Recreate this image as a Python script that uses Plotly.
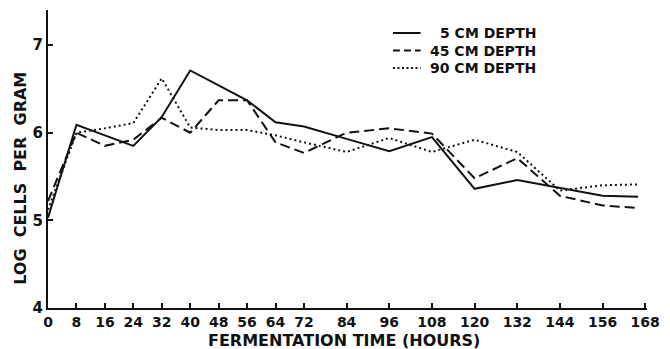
import plotly.graph_objects as go

# Sampling times (hours) and log cell counts per gram at three silo depths
hours = [0, 8, 16, 24, 32, 40, 48, 56, 64, 72, 84, 96, 108, 120, 132, 144, 156, 166]
depth_5cm = [5.03, 6.09, 5.97, 5.85, 6.18, 6.71, 6.54, 6.37, 6.12, 6.07, 5.93, 5.79, 5.95, 5.36, 5.46, 5.37, 5.28, 5.27]
depth_45cm = [5.22, 6.00, 5.85, 5.92, 6.17, 6.00, 6.37, 6.37, 5.89, 5.77, 6.00, 6.05, 5.99, 5.48, 5.71, 5.28, 5.17, 5.14]
depth_90cm = [5.12, 6.00, 6.05, 6.11, 6.62, 6.06, 6.03, 6.03, 5.97, 5.89, 5.78, 5.94, 5.78, 5.92, 5.78, 5.34, 5.40, 5.41]

x_ticks = [0, 8, 16, 24, 32, 40, 48, 56, 64, 72, 84, 96, 108, 120, 132, 144, 156, 168]
y_ticks = [4, 5, 6, 7]

FONT = "DejaVu Sans"
INK = "#111111"
NB = "\u00a0"

# name, values, line dash in the plot, line dash in the key
series = [
    ("5 CM DEPTH", depth_5cm, "solid", "solid"),
    ("45 CM DEPTH", depth_45cm, "10px,5px", "7px,4px"),
    ("90 CM DEPTH", depth_90cm, "2px,3px", "2px,2.5px"),
]

# plot-area geometry in pixels (used to place the key and titles)
W, H = 670, 349
ML, MR, MT, MB = 48, 16, 10, 41
PW, PH = W - ML - MR, H - MT - MB


def px_x(p):
    return (p - ML) / PW


def px_y(p):
    return (H - MB - p) / PH


fig = go.Figure()
for name, vals, dash, _ in series:
    fig.add_trace(go.Scatter(
        x=hours, y=vals, mode="lines", name=name, showlegend=False,
        line=dict(color=INK, width=2, dash=dash),
    ))

# key: line sample + right-aligned label per row
key_rows_y = [33, 50.5, 68]
annotations = []
shapes = []
for (name, _, _, key_dash), ry in zip(series, key_rows_y):
    shapes.append(dict(
        type="line", xref="paper", yref="paper",
        x0=px_x(397), x1=px_x(425), y0=px_y(ry), y1=px_y(ry),
        line=dict(color=INK, width=2, dash=key_dash),
    ))
    annotations.append(dict(
        text=name, xref="paper", yref="paper", x=px_x(544), y=px_y(ry),
        xanchor="right", yanchor="middle", align="right", showarrow=False,
        font=dict(family=FONT, size=14, color=INK, weight="bold"),
    ))

annotations += [
    dict(text="FERMENTATION TIME (HOURS)", xref="paper", yref="paper",
         x=px_x(347.5), y=px_y(341), xanchor="center", yanchor="middle", showarrow=False,
         font=dict(family=FONT, size=16, color=INK, weight="bold")),
    dict(text=f"LOG{NB} CELLS{NB} PER{NB} GRAM", xref="paper", yref="paper",
         x=px_x(19.5), y=px_y(178), xanchor="center", yanchor="middle", textangle=-90,
         showarrow=False,
         font=dict(family=FONT, size=16, color=INK, weight="bold")),
]

fig.update_layout(
    width=W, height=H,
    margin=dict(l=ML, r=MR, t=MT, b=MB),
    paper_bgcolor="white", plot_bgcolor="white",
    font=dict(family=FONT, color=INK, size=14, weight="bold"),
    showlegend=False,
    xaxis=dict(
        range=[0, 168.5], tickvals=x_ticks, ticktext=[str(t) for t in x_ticks],
        showgrid=False, zeroline=False, showline=True, linecolor=INK, linewidth=2,
        ticks="inside", ticklen=5, tickwidth=1.5, tickcolor=INK,
        tickfont=dict(family=FONT, size=14, color=INK, weight="bold"),
    ),
    yaxis=dict(
        range=[4, 7.4], tickvals=y_ticks, ticktext=[str(t) for t in y_ticks],
        showgrid=False, zeroline=False, showline=True, linecolor=INK, linewidth=2,
        ticks="inside", ticklen=5, tickwidth=1.5, tickcolor=INK,
        tickfont=dict(family=FONT, size=15, color=INK, weight="bold"),
    ),
    shapes=shapes,
    annotations=annotations,
)

fig.write_html("out.html")
